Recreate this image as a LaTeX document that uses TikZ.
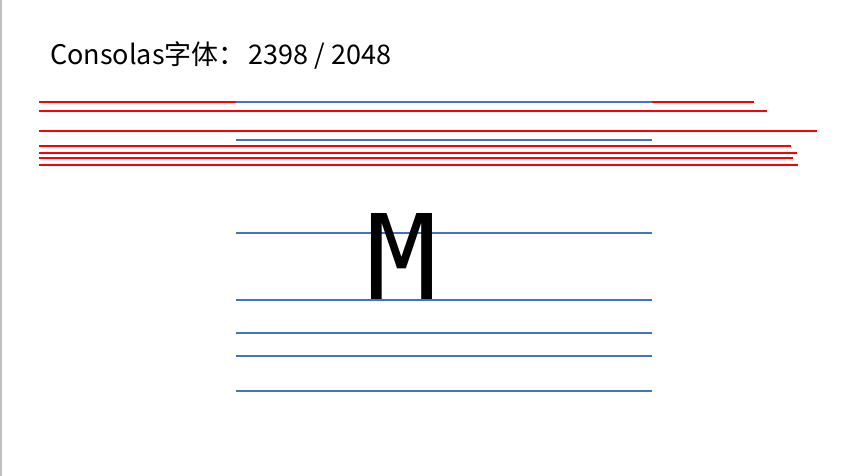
\documentclass[tikz,border=0pt]{standalone}
\usepackage{fontspec}
\newfontfamily\cjk{Noto Sans CJK SC}
\newfontfamily\mono{DejaVu Sans Mono}
\definecolor{lineblue}{RGB}{68,114,196}

\begin{document}
\begin{tikzpicture}[x=1pt,y=-1pt,
  redline/.style={red,line width=1.9pt},
  blueline/.style={lineblue,line width=1.6pt}]
  \useasboundingbox (0,0) rectangle (856,476);
  \draw[gray!50,line width=1.5pt] (0.75,0) -- (0.75,476);
  \node[anchor=base west,inner sep=0pt,font=\cjk\fontsize{27}{30}\selectfont] (title) at (50,65) {Consolas字体：\hspace{0.1em}2398 / 2048};
  % red lines
  \foreach \y/\xr in {102/754,111/767,131/817,146/791,153/797,158/793,165/798}
    \draw[redline] (39,\y) -- (\xr,\y);
  % blue lines
  \foreach \y in {102,140,233,300,333,356,391}
    \draw[blueline] (236,\y) -- (652,\y);
  \node[anchor=base,inner sep=0pt,font=\mono\fontsize{118}{120}\selectfont] (glyph) at (402.5,299) {M};
\end{tikzpicture}
\end{document}
